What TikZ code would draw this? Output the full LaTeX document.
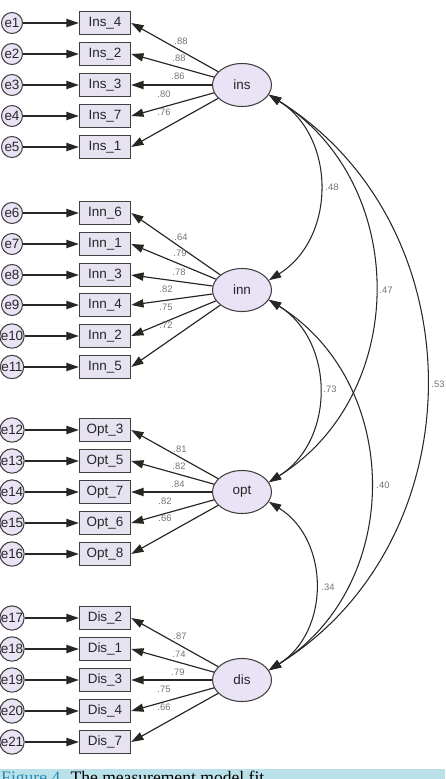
\documentclass[tikz,border=0pt]{standalone}
\usepackage{fontspec}
\setmainfont{Liberation Sans}
\newfontfamily\capfont{Liberation Serif}
\usetikzlibrary{arrows.meta,shapes.geometric}

\definecolor{lav}{RGB}{234,226,245}
\definecolor{boxfill}{RGB}{230,226,240}
\definecolor{capblue}{RGB}{186,224,234}
\definecolor{figteal}{RGB}{35,140,180}

\begin{document}
\begin{tikzpicture}[x=0.03cm,y=0.03cm,>={Triangle[length=10.5pt,width=7pt]},font=\fontsize{11.5}{13}\selectfont]
\tikzstyle{err}=[circle,draw=black!75,fill=lav,line width=0.9pt,minimum size=0.63cm,inner sep=0pt,text=black!85]
\tikzstyle{obs}=[rectangle,draw=black!75,fill=boxfill,line width=1.2pt,minimum width=1.53cm,minimum height=0.69cm,inner sep=0pt,text=black!85]
\tikzstyle{lat}=[ellipse,draw=black!75,fill=lav,line width=0.9pt,minimum width=1.77cm,minimum height=1.29cm,inner sep=0pt,text=black!85]
\tikzstyle{coef}=[font=\fontsize{8}{9}\selectfont,text=black!55,inner sep=0pt]
\tikzstyle{ld}=[->,line width=1pt,draw=black!85]
\tikzstyle{cov}=[<->,line width=0.9pt,draw=black!85]
\clip (0,0) rectangle (445,-779);
% latent factors
\node[lat] (ins) at (242,-85) {ins};
\node[lat] (inn) at (242,-290) {inn};
\node[lat] (opt) at (242,-492) {opt};
\node[lat] (dis) at (242,-680) {dis};
% indicators with their error terms
\foreach \n/\y/\t/\f in {1/23/Ins\_4/ins,2/54/Ins\_2/ins,3/85/Ins\_3/ins,4/116/Ins\_7/ins,5/147/Ins\_1/ins,
  6/213/Inn\_6/inn,7/244/Inn\_1/inn,8/275/Inn\_3/inn,9/305/Inn\_4/inn,10/336/Inn\_2/inn,11/367/Inn\_5/inn,
  12/430/Opt\_3/opt,13/461/Opt\_5/opt,14/492/Opt\_7/opt,15/523/Opt\_6/opt,16/554/Opt\_8/opt,
  17/618/Dis\_2/dis,18/649/Dis\_1/dis,19/680/Dis\_3/dis,20/711/Dis\_4/dis,21/742/Dis\_7/dis}{
  \node[obs] (b\n) at (105,-\y) {\t};
  \node[err] (e\n) at (12,-\y) {e\n};
  \draw[ld] (e\n) -- (b\n);
  \draw[ld] (\f) -- (b\n.east);
}
% factor loadings
\foreach \n/\x/\y/\v in {1/181/41/.88,2/179/58/.88,3/178/76/.86,4/164/94/.80,5/164/112/.76,
  6/181/237/.64,7/180/253/.79,8/179/272/.78,9/166/289/.82,10/166/307/.75,11/166/325/.72,
  12/180/449/.81,13/179/466/.82,14/178/484/.84,15/165/501/.82,16/165/518/.66,
  17/180/636/.87,18/179/654/.74,19/178/672/.79,20/164/689/.75,21/164/707/.66}
  \node[coef] (c\n) at (\x,-\y) {\v};
% covariances
\draw[cov] (ins.-20) to[out=-32,in=32,looseness=1.1] (inn.20);
\draw[cov] (ins.-20) to[out=-32,in=32,looseness=1.1] (opt.20);
\draw[cov] (ins.-20) to[out=-32,in=32,looseness=1.1] (dis.20);
\draw[cov] (inn.-20) to[out=-32,in=32,looseness=1.1] (opt.20);
\draw[cov] (inn.-20) to[out=-32,in=32,looseness=1.1] (dis.20);
\draw[cov] (opt.-20) to[out=-32,in=32,looseness=1.1] (dis.20);
\node[coef] (r1) at (332,-187) {.48};
\node[coef] (r2) at (386,-290) {.47};
\node[coef] (r3) at (438,-384) {.53};
\node[coef] (r4) at (330,-389) {.73};
\node[coef] (r5) at (383,-485) {.40};
\node[coef] (r6) at (328,-587) {.34};
% caption strip
\fill[capblue] (0,-769) rectangle (445,-780);
\node[anchor=base west,inner sep=0pt,font=\capfont\fontsize{15}{16}\selectfont] (cap) at (1,-783) {\textcolor{figteal}{Figure 4.} The measurement model fit.};
\end{tikzpicture}
\end{document}
